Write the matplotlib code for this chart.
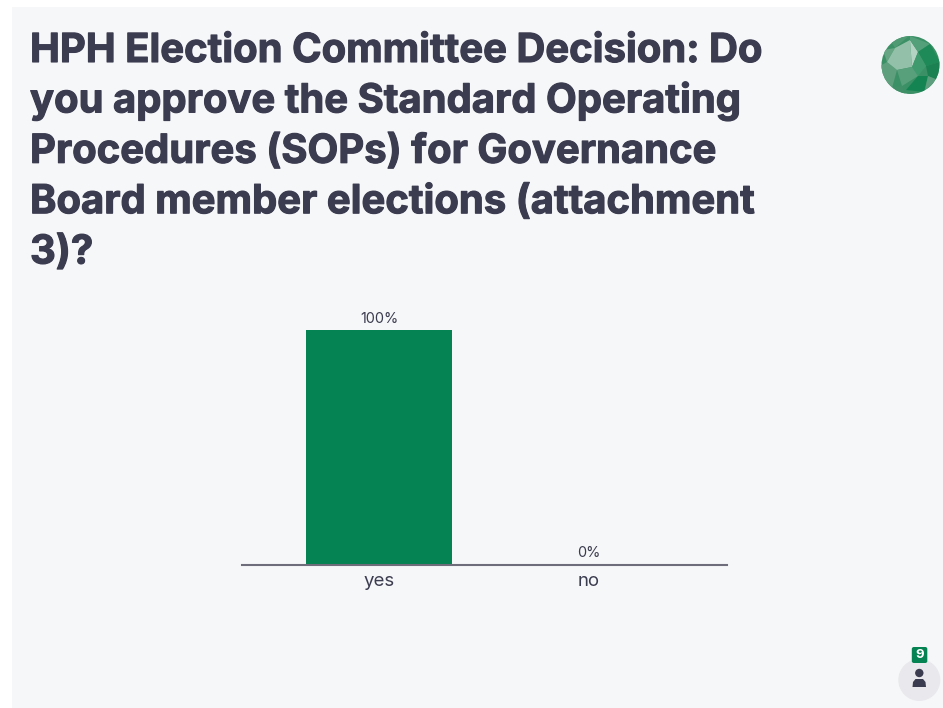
import matplotlib
matplotlib.use("Agg")
import matplotlib.pyplot as plt
import matplotlib.patheffects as pe
from matplotlib.patches import Circle, Polygon, Rectangle, FancyBboxPatch

W, H = 943, 708

title_lines = [
    "HPH Election Committee Decision: Do",
    "you approve the Standard Operating",
    "Procedures (SOPs) for Governance",
    "Board member elections (attachment",
    "3)?",
]
categories = ["yes", "no"]
shares = [100, 0]
voters = "9"

BG = "#f6f7f9"
INK = "#3c3c50"
GREEN = "#058352"

plt.rcParams["font.family"] = ["Inter", "DejaVu Sans"]

fig = plt.figure(figsize=(W / 100, H / 100), dpi=100, facecolor="white")

# overlay in pixel coordinates for the panel, title and badges
page = fig.add_axes([0, 0, 1, 1], zorder=0)
page.set_xlim(0, W)
page.set_ylim(H, 0)
page.axis("off")
page.add_patch(Rectangle((12, 7), W - 12, H - 7, fc=BG, ec="none"))

for i, line in enumerate(title_lines):
    page.text(30, 62 + i * 50.4, line, fontsize=28.8, fontweight="bold",
              color=INK, va="baseline", ha="left",
              path_effects=[pe.withStroke(linewidth=0.8, foreground=INK)])

# bar chart
ax = fig.add_axes([242 / W, 1 - 564.5 / H, 485 / W, 234.5 / H], zorder=1)
ax.patch.set_alpha(0)
ax.bar(range(len(categories)), shares, width=0.695, color=GREEN)
ax.set_xlim(-0.652, 1.657)
ax.set_ylim(0, 100)
for s in ["top", "left", "right"]:
    ax.spines[s].set_visible(False)
ax.spines["bottom"].set_color("#6d6d7c")
ax.spines["bottom"].set_linewidth(1.5)
ax.set_yticks([])
ax.set_xticks(range(len(categories)), categories)
ax.tick_params(axis="x", length=0, pad=6, labelsize=13.4, labelcolor=INK)
for i, v in enumerate(shares):
    ax.annotate(f"{v}%", (i, v), xytext=(0, 3), textcoords="offset points",
                ha="center", va="bottom", fontsize=10.4, color=INK, annotation_clip=False)

# faceted green globe, top right
globe = Circle((910.5, 65), 29, fc="#3c9066", ec="none")
page.add_patch(globe)
facets = [
    ([(880, 66), (887, 62), (897, 70), (892, 88), (881, 76)], "#5f9f7e"),
    ([(887, 62), (895, 48), (883, 50)], "#67a585"),
    ([(895, 48), (910, 35), (890, 40)], "#4f9a73"),
    ([(895, 48), (910, 40), (912, 67), (897, 70), (887, 62)], "#93c0a8"),
    ([(910, 40), (918, 52), (912, 67)], "#b4d3c2"),
    ([(910, 36), (930, 44), (918, 52), (910, 40)], "#53a07a"),
    ([(918, 52), (930, 44), (940, 62), (926, 66)], "#1e8a58"),
    ([(912, 67), (918, 52), (926, 66), (918, 76)], "#3f9b6e"),
    ([(926, 66), (940, 62), (938, 80), (928, 76)], "#1b8152"),
    ([(897, 70), (912, 67), (918, 76), (902, 86)], "#58a07b"),
    ([(918, 76), (928, 76), (924, 92), (906, 90)], "#148453"),
    ([(928, 76), (938, 80), (924, 94)], "#5c9e7d"),
    ([(892, 88), (902, 86), (906, 95), (896, 92)], "#418f68"),
]
for pts, c in facets:
    p = Polygon(pts, closed=True, fc=c, ec="none")
    page.add_patch(p)
    p.set_clip_path(globe)

# participant counter, bottom right
page.add_patch(Circle((919.3, 680), 21, fc="#e9e9ed", ec="none"))
page.add_patch(FancyBboxPatch((911.8, 647), 15.5, 16, boxstyle="round,pad=0,rounding_size=2",
                              fc=GREEN, ec="none"))
page.text(919.5, 655, voters, color="white", fontsize=9.5, fontweight="bold",
          ha="center", va="center")
page.add_patch(Circle((919.3, 673), 4.2, fc=INK, ec="none"))
page.add_patch(Polygon([(912.5, 687), (913, 682), (915.5, 679), (923, 679), (925.5, 682), (926, 687)],
                       closed=True, fc=INK, ec="none"))

fig.savefig("out.png", dpi=100, facecolor="white")
